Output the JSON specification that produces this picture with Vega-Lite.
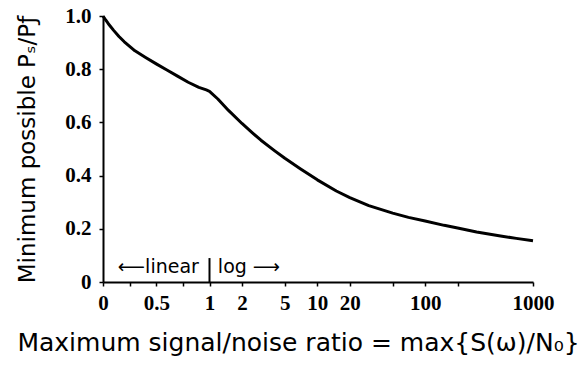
{
  "$schema": "https://vega.github.io/schema/vega-lite/v6.json",
  "width": 430,
  "height": 266,
  "autosize": {"type": "none"},
  "padding": {"left": 103, "top": 16, "right": 46, "bottom": 91},
  "background": "white",
  "config": {
    "view": {"stroke": null},
    "axis": {
      "domainColor": "black",
      "domainWidth": 2,
      "tickColor": "black",
      "tickWidth": 1.5,
      "tickSize": 4,
      "grid": false,
      "labelFont": "Liberation Serif",
      "labelFontSize": 21,
      "labelFontWeight": "bold",
      "labelColor": "black",
      "titleFont": "DejaVu Sans",
      "titleFontSize": 23,
      "titleFontWeight": "normal",
      "titleColor": "black",
      "labelOverlap": false,
      "labelFlush": false
    }
  },
  "datasets": {
    "curve": [
      {"snr": 0, "ratio": 1.0},
      {"snr": 0.025, "ratio": 0.985},
      {"snr": 0.05, "ratio": 0.971},
      {"snr": 0.1, "ratio": 0.946},
      {"snr": 0.15, "ratio": 0.923},
      {"snr": 0.2, "ratio": 0.903},
      {"snr": 0.3, "ratio": 0.869},
      {"snr": 0.4, "ratio": 0.844},
      {"snr": 0.5, "ratio": 0.82},
      {"snr": 0.6, "ratio": 0.797},
      {"snr": 0.7, "ratio": 0.774},
      {"snr": 0.8, "ratio": 0.751},
      {"snr": 0.9, "ratio": 0.732},
      {"snr": 0.97, "ratio": 0.722},
      {"snr": 1.0, "ratio": 0.717},
      {"snr": 1.2, "ratio": 0.688},
      {"snr": 1.5, "ratio": 0.645},
      {"snr": 2, "ratio": 0.596},
      {"snr": 2.5, "ratio": 0.561},
      {"snr": 3, "ratio": 0.533},
      {"snr": 4, "ratio": 0.494},
      {"snr": 5, "ratio": 0.465},
      {"snr": 7, "ratio": 0.425},
      {"snr": 10, "ratio": 0.384},
      {"snr": 15, "ratio": 0.342},
      {"snr": 20, "ratio": 0.317},
      {"snr": 30, "ratio": 0.287},
      {"snr": 50, "ratio": 0.259},
      {"snr": 70, "ratio": 0.243},
      {"snr": 100, "ratio": 0.229},
      {"snr": 150, "ratio": 0.213},
      {"snr": 200, "ratio": 0.203},
      {"snr": 300, "ratio": 0.188},
      {"snr": 500, "ratio": 0.173},
      {"snr": 700, "ratio": 0.164},
      {"snr": 1000, "ratio": 0.155}
    ],
    "divider": [{"snr": 1, "lo": 0, "hi": 0.09}],
    "labels": [
      {"snr": 0.9, "ratio": 0.035, "label": "⟵linear", "side": "right"},
      {"snr": 1.2, "ratio": 0.035, "label": "log ⟶", "side": "left"}
    ]
  },
  "encoding": {
    "x": {
      "field": "snr",
      "type": "quantitative",
      "scale": {
        "type": "linear",
        "nice": false,
        "zero": false,
        "domain": [0, 1, 1.25, 1.5, 2, 2.5, 3, 4, 5, 6, 7, 8, 10, 12.5, 15, 20, 25, 30, 40, 50, 60, 70, 80, 100, 125, 150, 200, 250, 300, 400, 500, 600, 700, 800, 1000],
        "range": [0, 106.5, 116.95, 125.49, 138.96, 149.41, 157.95, 171.42, 181.87, 190.41, 197.63, 203.88, 214.33, 224.78, 233.32, 246.79, 257.24, 265.78, 279.25, 289.7, 298.24, 305.46, 311.71, 322.16, 332.61, 341.15, 354.62, 365.07, 373.61, 387.08, 397.53, 406.07, 413.29, 419.54, 430]
      },
      "axis": {
        "values": [0, 0.25, 0.5, 0.75, 1, 2, 5, 10, 20, 50, 100, 200, 1000],
        "labelExpr": "datum.value == 0.25 || datum.value == 0.75 || datum.value == 50 || datum.value == 200 ? '' : '' + datum.value",
        "labelPadding": 6,
        "title": "Maximum signal/noise ratio  = max{S(ω)/N₀}",
        "titleFontSize": 25,
        "titlePadding": 17,
        "titleX": 195
      }
    },
    "y": {
      "field": "ratio",
      "type": "quantitative",
      "scale": {"domain": [0, 1], "nice": false},
      "axis": {
        "values": [0, 0.2, 0.4, 0.6, 0.8, 1.0],
        "labelExpr": "datum.value == 0 ? '0' : format(datum.value, '.1f')",
        "labelPadding": 8,
        "title": "Minimum possible Pₛ/Pƒ",
        "titlePadding": 25
      }
    }
  },
  "layer": [
    {
      "data": {"name": "curve"},
      "mark": {"type": "line", "color": "black", "strokeWidth": 3, "interpolate": "linear", "strokeJoin": "round"}
    },
    {
      "data": {"name": "divider"},
      "mark": {"type": "rule", "color": "black", "strokeWidth": 2},
      "encoding": {
        "y": {"field": "lo", "type": "quantitative"},
        "y2": {"field": "hi"}
      }
    },
    {
      "data": {"name": "labels"},
      "transform": [{"filter": "datum.side == 'right'"}],
      "mark": {"type": "text", "align": "right", "baseline": "alphabetic", "font": "DejaVu Sans", "fontSize": 19, "color": "black"},
      "encoding": {"text": {"field": "label"}}
    },
    {
      "data": {"name": "labels"},
      "transform": [{"filter": "datum.side == 'left'"}],
      "mark": {"type": "text", "align": "left", "baseline": "alphabetic", "font": "DejaVu Sans", "fontSize": 19, "color": "black"},
      "encoding": {"text": {"field": "label"}}
    }
  ]
}
